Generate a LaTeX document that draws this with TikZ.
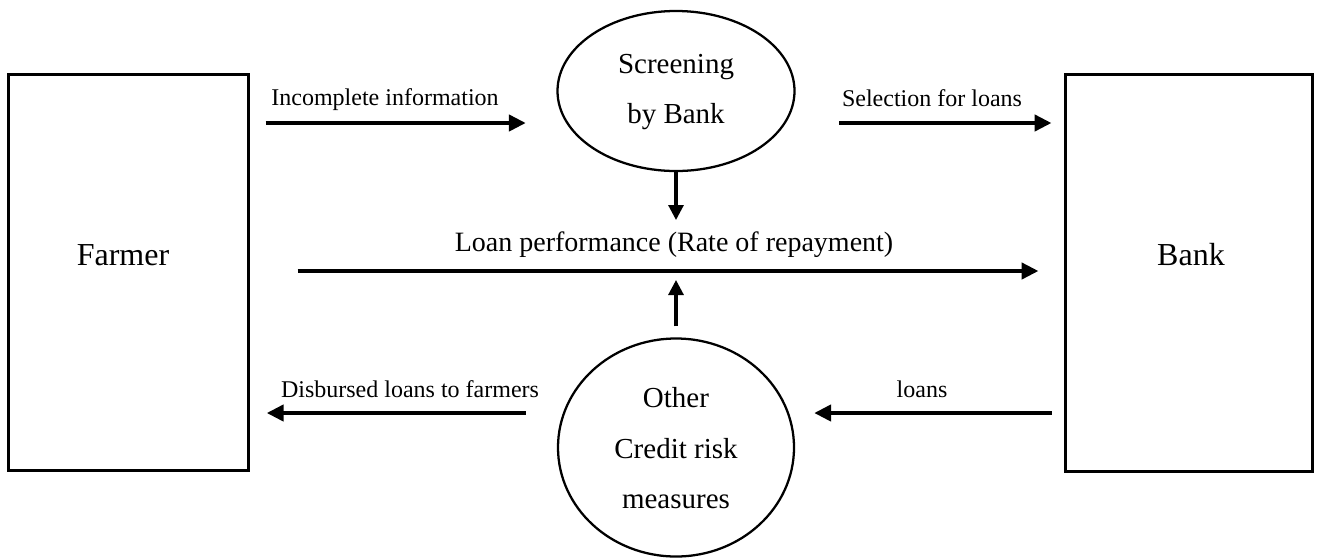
\documentclass[tikz,border=0pt]{standalone}
\usepackage{fontspec}
\setmainfont{Liberation Serif}
\usetikzlibrary{shapes.geometric,arrows.meta}
\begin{document}
\begin{tikzpicture}[x=0.75pt,y=-0.75pt,
  party/.style={draw,line width=2.5pt,rectangle,inner sep=0pt},
  bubble/.style={draw,line width=1.7pt,ellipse,inner sep=0pt},
  flow/.style={line width=3.2pt,-{Triangle[length=12.75pt,width=12pt]}},
  feed/.style={line width=2.3pt,-{Triangle[length=11.25pt,width=11.25pt]}},
  bigtxt/.style={font=\fontsize{24pt}{28pt}\selectfont,anchor=base,inner sep=0pt},
  midtxt/.style={font=\fontsize{21.75pt}{26pt}\selectfont,anchor=base,inner sep=0pt},
  perftxt/.style={font=\fontsize{21pt}{25pt}\selectfont,anchor=base,inner sep=0pt},
  lbltxt/.style={font=\fontsize{18pt}{22pt}\selectfont,anchor=base,inner sep=0pt}]
\useasboundingbox (0,0) rectangle (1320,558);

% the two parties
\node[party,minimum width=180pt,minimum height=297pt] (farmer) at (128.6,272.5) {};
\node[party,minimum width=185.25pt,minimum height=297.75pt] (bank) at (1188.7,273) {};
\node[bigtxt] (farmerT) at (123,265) {Farmer};
\node[bigtxt] (bankT) at (1191,265) {Bank};

% screening and other measures
\node[bubble,minimum width=177.75pt,minimum height=120pt] (scr) at (676,91) {};
\node[bubble,minimum width=177pt,minimum height=163.5pt] (oth) at (676,447.5) {};
\node[midtxt] (scrA) at (676,73) {Screening};
\node[midtxt] (scrB) at (676,123) {by Bank};
\node[midtxt] (othA) at (676,407) {Other};
\node[midtxt] (othB) at (676,458) {Credit risk};
\node[midtxt] (othC) at (676,508) {measures};

% rows of the horizontal flows
\coordinate (rowTop) at (0,123);
\coordinate (rowMid) at (0,271);
\coordinate (rowBot) at (0,413);

% top flows
\draw[flow,shorten <=11.55pt,shorten >=22.9pt] (farmer.east |- rowTop) -- (scr.west |- rowTop);
\node[lbltxt] (incT) at (385,105) {Incomplete information};
\draw[flow,shorten <=32.6pt,shorten >=9pt] (scr.east |- rowTop) -- (bank.west |- rowTop);
\node[lbltxt] (selT) at (932,106) {Selection for loans};

% loan performance
\draw[flow,shorten <=35.55pt,shorten >=18.75pt] (farmer.east |- rowMid) -- (bank.west |- rowMid);
\node[perftxt] (perf) at (674,251) {Loan performance (Rate of repayment)};
\coordinate (perfAbove) at (676,220);
\coordinate (perfBelow) at (676,280);
\draw[feed] (scr.south) -- (perfAbove);
\draw[feed,shorten <=8.25pt] (oth.north) -- (perfBelow);

% bottom flows
\draw[flow,shorten <=9pt,shorten >=14.25pt] (bank.west |- rowBot) -- (oth.east |- rowBot);
\node[lbltxt] (loanT) at (922,397) {loans};
\draw[flow,shorten <=23.25pt,shorten >=12.3pt] (oth.west |- rowBot) -- (farmer.east |- rowBot);
\node[lbltxt] (disT) at (410,397) {Disbursed loans to farmers};
\end{tikzpicture}
\end{document}
